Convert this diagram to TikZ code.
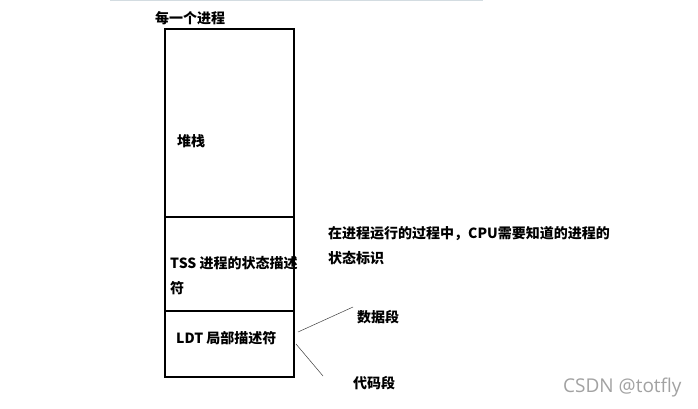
\documentclass[tikz,border=0pt]{standalone}
\usepackage{fontspec}
\setmainfont{Noto Sans CJK SC}
\newfontfamily\wmfont{Open Sans}
\usepackage{tikz}
\usetikzlibrary{positioning}
\definecolor{rulegray}{HTML}{D3DCE1}
\definecolor{wmgray}{HTML}{A2A2A2}
\tikzset{
  lbl/.style={anchor=west,inner sep=0pt,align=left,font=\fontsize{14}{25}\selectfont\bfseries},
  seg/.style={draw=black,line width=2.4pt,outer sep=0pt,minimum width=129pt,anchor=north},
  lead/.style={draw=black!75,line width=0.5pt},
}
\begin{document}
\begin{tikzpicture}[x=1pt,y=-1pt]
\useasboundingbox (0,0) rectangle (698,409);
\fill[white] (0,0) rectangle (698,409);
\draw[rulegray,line width=1.2pt] (110,0.6) -- (483,0.6);
% process column
\node[seg,minimum height=188pt] (stackseg) at (229.5,29) {};
\node[seg,minimum height=94pt,below=0pt of stackseg] (tssseg) {};
\node[seg,minimum height=66pt,below=0pt of tssseg] (ldtseg) {};
\node[lbl] (title) at (155,18) {每一个进程};
\node[lbl] (stack) at (177,141) {堆栈};
\node[lbl] (tss) at (170,275.5) {TSS 进程的状态描述\\符};
\node[lbl] (ldt) at (176,338) {LDT 局部描述符};
% notes on the right
\node[lbl] (note) at (328,245.5) {在进程运行的过程中，CPU需要知道的进程的\\状态标识};
\node[lbl] (data) at (357,317) {数据段};
\node[lbl] (code) at (353,383) {代码段};
\coordinate (dataA) at (298,332);
\coordinate (dataB) at (353,307);
\coordinate (codeA) at (296,344);
\coordinate (codeB) at (323,376);
\draw[lead] (dataA) -- (dataB);
\draw[lead] (codeA) -- (codeB);
\node[anchor=west,inner sep=0pt,text=wmgray,font=\wmfont\fontsize{19}{22}\selectfont] (wm) at (563,388) {CSDN @totfly};
\end{tikzpicture}
\end{document}
